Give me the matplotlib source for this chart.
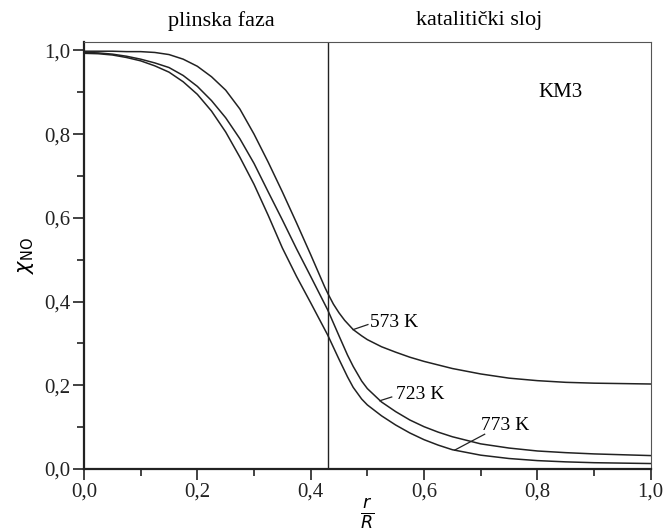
import matplotlib
matplotlib.use('Agg')
import matplotlib.pyplot as plt
from matplotlib.ticker import MultipleLocator, FuncFormatter

# r/R positions and NO fraction for each temperature
x_573 = [0.0, 0.025, 0.05, 0.075, 0.1, 0.125, 0.15, 0.175, 0.2, 0.225, 0.25, 0.275, 0.3,
         0.325, 0.35, 0.375, 0.4, 0.425, 0.43, 0.44, 0.45, 0.46, 0.475, 0.49, 0.5, 0.525,
         0.55, 0.575, 0.6, 0.65, 0.7, 0.75, 0.8, 0.85, 0.9, 0.95, 1.0]
y_573 = [0.998, 0.998, 0.998, 0.997, 0.997, 0.995, 0.990, 0.979, 0.962, 0.937, 0.905, 0.860, 0.800,
         0.733, 0.662, 0.588, 0.512, 0.434, 0.420, 0.394, 0.373, 0.355, 0.333, 0.318, 0.309, 0.292,
         0.279, 0.267, 0.257, 0.240, 0.227, 0.217, 0.211, 0.207, 0.205, 0.204, 0.203]

x_723 = [0.0, 0.025, 0.05, 0.075, 0.1, 0.125, 0.15, 0.175, 0.2, 0.225, 0.25, 0.275, 0.3,
         0.325, 0.35, 0.375, 0.4, 0.43, 0.45, 0.465, 0.475, 0.49, 0.5, 0.525, 0.55, 0.575,
         0.6, 0.625, 0.65, 0.7, 0.75, 0.8, 0.85, 0.9, 0.95, 1.0]
y_723 = [0.995, 0.994, 0.991, 0.986, 0.979, 0.970, 0.959, 0.940, 0.914, 0.880, 0.839, 0.789, 0.730,
         0.662, 0.595, 0.526, 0.460, 0.380, 0.318, 0.272, 0.245, 0.210, 0.192, 0.160, 0.137, 0.117,
         0.101, 0.088, 0.077, 0.060, 0.050, 0.043, 0.039, 0.036, 0.034, 0.032]

x_773 = [0.0, 0.025, 0.05, 0.075, 0.1, 0.125, 0.15, 0.175, 0.2, 0.225, 0.25, 0.275, 0.3,
         0.325, 0.35, 0.375, 0.4, 0.43, 0.45, 0.465, 0.475, 0.49, 0.5, 0.525, 0.55, 0.575,
         0.6, 0.625, 0.65, 0.7, 0.75, 0.8, 0.85, 0.9, 0.95, 1.0]
y_773 = [0.993, 0.992, 0.989, 0.983, 0.975, 0.963, 0.948, 0.925, 0.895, 0.855, 0.805, 0.745, 0.680,
         0.606, 0.528, 0.460, 0.397, 0.320, 0.262, 0.220, 0.195, 0.167, 0.153, 0.127, 0.105, 0.086,
         0.070, 0.057, 0.046, 0.033, 0.025, 0.020, 0.017, 0.015, 0.014, 0.013]

interface = 0.43

# label, leader start (on curve), leader end, text position
labels = ['573 K', '723 K', '773 K']
leader_from = [(0.475, 0.333), (0.522, 0.163), (0.654, 0.045)]
leader_to = [(0.501, 0.345), (0.543, 0.172), (0.707, 0.083)]
text_at = [(0.504, 0.349), (0.551, 0.177), (0.700, 0.105)]

serif = 'Liberation Serif'
plt.rcParams['mathtext.fontset'] = 'dejavusans'

fig = plt.figure(figsize=(6.64, 5.31), dpi=100)
ax = fig.add_axes([0.1265, 0.1168, 0.8535, 0.8041])

for xs, ys in [(x_573, y_573), (x_723, y_723), (x_773, y_773)]:
    ax.plot(xs, ys, color='#222222', lw=1.1)

ax.axvline(interface, color='#222222', lw=1.0)

for lab, p0, p1, pt in zip(labels, leader_from, leader_to, text_at):
    ax.plot([p0[0], p1[0]], [p0[1], p1[1]], color='#222222', lw=0.9)
    ax.text(pt[0], pt[1], lab, fontsize=14, family=serif, va='center', ha='left')

ax.text(0.84, 0.90, 'KM3', fontsize=15, family=serif, ha='center', va='center')
ax.text(0.242, 1.05, 'plinska faza', fontsize=16, family=serif, ha='center', va='center',
        transform=ax.get_xaxis_transform())
ax.text(0.698, 1.05, 'katalitički sloj', fontsize=16, family=serif, ha='center', va='center',
        transform=ax.get_xaxis_transform())

ax.set_xlim(0, 1.0)
ax.set_ylim(0, 1.02)

ax.xaxis.set_major_locator(MultipleLocator(0.2))
ax.xaxis.set_minor_locator(MultipleLocator(0.1))
ax.yaxis.set_major_locator(MultipleLocator(0.2))
ax.yaxis.set_minor_locator(MultipleLocator(0.1))
comma = FuncFormatter(lambda v, pos: f'{v:.1f}'.replace('.', ','))
ax.xaxis.set_major_formatter(comma)
ax.yaxis.set_major_formatter(comma)

ax.tick_params(which='both', direction='out', top=False, right=False, width=1.2, colors='#222222')
ax.tick_params(which='major', length=8, labelsize=15, pad=2)
ax.tick_params(which='minor', length=5)
for t in ax.get_xticklabels() + ax.get_yticklabels():
    t.set_family(serif)

for side in ['left', 'bottom']:
    ax.spines[side].set_linewidth(1.6)
    ax.spines[side].set_color('#222222')
for side in ['top', 'right']:
    ax.spines[side].set_linewidth(0.8)
    ax.spines[side].set_color('#555555')

ax.set_ylabel(r'$\chi_{\mathrm{NO}}$', fontsize=15, labelpad=6)
ax.set_xlabel(r'$\frac{r}{R}$', fontsize=18, labelpad=-4)

fig.savefig('out.png', dpi=100)
